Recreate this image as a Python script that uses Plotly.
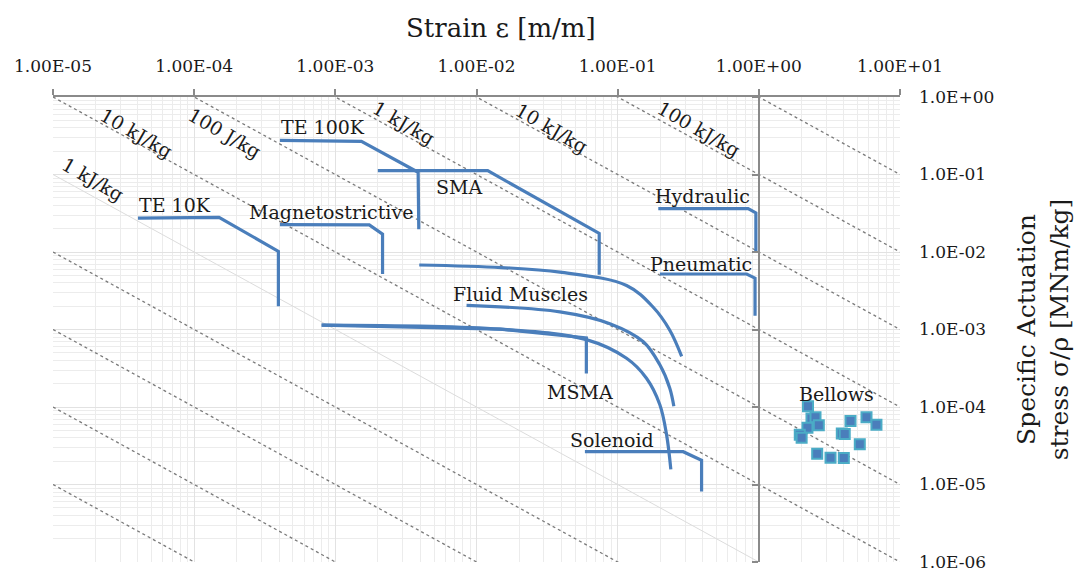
import plotly.graph_objects as go

# ---------------- data (strain [m/m], specific stress [MNm/kg]) ----------------
te10k_x = [4.0e-5, 1.5e-4, 3.95e-4, 3.95e-4]
te10k_y = [2.73e-2, 2.8e-2, 1.02e-2, 2.0e-3]

te100k_x = [4.05e-4, 1.53e-3, 3.86e-3, 3.9e-3]
te100k_y = [0.275, 0.267, 0.107, 0.0197]

sma_x = [2.0e-3, 1.2e-2, 7.4e-2, 7.4e-2]
sma_y = [0.112, 0.112, 0.0174, 0.0051]

magneto_x = [4.05e-4, 1.74e-3, 2.16e-3, 2.16e-3]
magneto_y = [2.26e-2, 2.24e-2, 1.7e-2, 5.2e-3]

hydraulic_x = [0.194, 0.84, 0.953, 0.953]
hydraulic_y = [3.63e-2, 3.63e-2, 3.2e-2, 9.9e-3]

pneumatic_x = [0.199, 0.82, 0.94, 0.94]
pneumatic_y = [5.2e-3, 5.2e-3, 4.6e-3, 1.5e-3]

solenoid_x = [5.86e-2, 0.291, 0.393, 0.393]
solenoid_y = [2.65e-5, 2.65e-5, 2.05e-5, 8.1e-6]

msma_x = [8.0e-4, 1.47e-2, 6.0e-2, 6.0e-2]
msma_y = [1.14e-3, 1.01e-3, 7.8e-4, 2.7e-4]

curve_upper_x = [3.93e-3, 1.5e-2, 3.9e-2, 0.1156, 0.178, 0.234, 0.284]
curve_upper_y = [6.8e-3, 6.3e-3, 5.5e-3, 3.7e-3, 1.95e-3, 9.8e-4, 4.5e-4]

fluid_muscle_x = [8.5e-3, 3.9e-2, 8.8e-2, 0.152, 0.199, 0.234, 0.25]
fluid_muscle_y = [2.05e-3, 1.69e-3, 1.19e-3, 6.95e-4, 3.5e-4, 1.75e-4, 1.02e-4]

curve_lower_x = [8.0e-4, 1.47e-2, 6.0e-2, 0.1156, 0.160, 0.199, 0.222, 0.238]
curve_lower_y = [1.14e-3, 1.01e-3, 7.4e-4, 4.25e-4, 2.35e-4, 1.07e-4, 4.4e-5, 1.57e-5]

bellows_x = [2.23, 2.36, 2.52, 2.66, 2.21, 1.95, 2.01, 2.59, 3.22, 4.0, 3.87, 4.06, 4.46, 5.19, 5.79, 6.81]
bellows_y = [1.02e-4, 7.1e-5, 7.4e-5, 5.8e-5, 5.4e-5, 4.4e-5, 4.0e-5, 2.5e-5, 2.22e-5, 2.2e-5,
             4.55e-5, 4.5e-5, 6.6e-5, 3.3e-5, 7.4e-5, 5.9e-5]

# iso specific-work lines (sigma/rho * eps = const)
iso_dotted = [1e-10, 1e-9, 1e-8, 1e-7, 1e-5, 1e-4, 1e-3, 1e-2, 1e-1, 1e0]
iso_solid = [1e-6]

x_ticks = [1e-5, 1e-4, 1e-3, 1e-2, 1e-1, 1e0, 1e1]
x_ticktext = ["1.00E-05", "1.00E-04", "1.00E-03", "1.00E-02", "1.00E-01", "1.00E+00", "1.00E+01"]
y_ticks = [1e0, 1e-1, 1e-2, 1e-3, 1e-4, 1e-5, 1e-6]
y_ticktext = ["1.0E+00", "1.0E-01", "1.0E-02", "1.0E-03", "1.0E-04", "1.0E-05", "1.0E-06"]

iso_labels = ["1 kJ/kg", "10 kJ/kg", "100 J/kg", "1 kJ/kg", "10 kJ/kg", "100 kJ/kg"]
series_labels = ["TE 10K", "TE 100K", "SMA", "Magnetostrictive", "Hydraulic", "Pneumatic",
                 "Fluid Muscles", "MSMA", "Solenoid", "Bellows"]

# ---------------- styling ----------------
FONT = "DejaVu Serif"
BLUE = "#4a7ebb"
AXIS_GRAY = "#8a8a8a"
TXT = "#1a1a1a"

fig = go.Figure()

x_lo, x_hi = 1e-5, 1e1
for w in iso_dotted:
    fig.add_trace(go.Scatter(x=[x_lo, x_hi], y=[w / x_lo, w / x_hi], mode="lines",
                             line=dict(color="#7a7a7a", width=1.3, dash="dot"),
                             hoverinfo="skip", showlegend=False))
for w in iso_solid:
    fig.add_trace(go.Scatter(x=[x_lo, x_hi], y=[w / x_lo, w / x_hi], mode="lines",
                             line=dict(color="#dcdcdc", width=1),
                             hoverinfo="skip", showlegend=False))

line_series = [
    (te10k_x, te10k_y, "linear"),
    (te100k_x, te100k_y, "linear"),
    (sma_x, sma_y, "linear"),
    (magneto_x, magneto_y, "linear"),
    (hydraulic_x, hydraulic_y, "linear"),
    (pneumatic_x, pneumatic_y, "linear"),
    (solenoid_x, solenoid_y, "linear"),
    (msma_x, msma_y, "linear"),
    (curve_upper_x, curve_upper_y, "spline"),
    (fluid_muscle_x, fluid_muscle_y, "spline"),
    (curve_lower_x, curve_lower_y, "spline"),
]
for xs, ys, shp in line_series:
    fig.add_trace(go.Scatter(x=xs, y=ys, mode="lines",
                             line=dict(color=BLUE, width=3.2, shape=shp, smoothing=1.0),
                             showlegend=False))

fig.add_trace(go.Scatter(x=bellows_x, y=bellows_y, mode="markers",
                         marker=dict(symbol="square", size=10, color="#4a7ebb",
                                     line=dict(color="#4bacc6", width=2)),
                         showlegend=False))

# dummy trace for the axis drawn through x = 1
fig.add_trace(go.Scatter(x=[], y=[], yaxis="y2", showlegend=False))

# ---------------- annotations ----------------
iso_label_pos = [(-4.722, -1.064), (-4.407, -0.458), (-3.782, -0.458),
                 (-2.514, -0.337), (-1.468, -0.401), (-0.425, -0.414)]
for txt, (lx, ly) in zip(iso_labels, iso_label_pos):
    fig.add_annotation(x=lx, y=ly, xref="x", yref="y", text=txt, showarrow=False,
                       textangle=30, font=dict(family=FONT, size=19, color=TXT))

series_label_pos = [(-4.136, -1.397), (-3.088, -0.388), (-2.125, -1.158), (-3.033, -1.483),
                    (-0.402, -1.278), (-0.409, -2.150), (-1.690, -2.542), (-1.266, -3.804),
                    (-1.039, -4.432), (0.550, -3.829)]
for txt, (lx, ly) in zip(series_labels, series_label_pos):
    fig.add_annotation(x=lx, y=ly, xref="x", yref="y", text=txt, showarrow=False,
                       font=dict(family=FONT, size=19, color=TXT))

# x-axis title (sits right of centre in the original)
fig.add_annotation(x=0.529, y=1.148, xref="paper", yref="paper", text="Strain ε [m/m]",
                   showarrow=False, xanchor="center", yanchor="middle",
                   font=dict(family=FONT, size=26, color=TXT))

minor_x = [m * 10.0 ** e for e in range(-5, 1) for m in range(2, 10)]
minor_y = [m * 10.0 ** e for e in range(-6, 0) for m in range(2, 10)]

fig.update_layout(
    width=1075, height=572,
    margin=dict(l=53, r=175, t=97, b=10),
    paper_bgcolor="white", plot_bgcolor="white",
    font=dict(family=FONT, size=18, color=TXT),
    xaxis=dict(type="log", range=[-5, 1], side="top",
               tickmode="array", tickvals=x_ticks, ticktext=x_ticktext,
               showline=True, linecolor=AXIS_GRAY, linewidth=2,
               ticks="outside", ticklen=6, tickwidth=2, tickcolor=AXIS_GRAY,
               ticklabelstandoff=10, tickfont=dict(family=FONT, size=17, color=TXT),
               ticklabeloverflow="allow",
               showgrid=True, gridcolor="#e2e2e2", gridwidth=1, zeroline=False,
               minor=dict(tickmode="array", tickvals=minor_x, showgrid=True,
                          gridcolor="#ececec", gridwidth=1, ticks=""),
               automargin=False),
    yaxis=dict(type="log", range=[-6, 0], side="right",
               tickmode="array", tickvals=y_ticks, ticktext=y_ticktext,
               showline=False, ticks="", ticklabelstandoff=18,
               ticklabeloverflow="allow",
               tickfont=dict(family=FONT, size=17, color=TXT),
               showgrid=True, gridcolor="#e2e2e2", gridwidth=1, zeroline=False,
               minor=dict(tickmode="array", tickvals=minor_y, showgrid=True,
                          gridcolor="#ececec", gridwidth=1, ticks=""),
               title=dict(text="Specific Actuation<br>stress σ/ρ [MNm/kg]",
                          font=dict(family=FONT, size=25, color=TXT), standoff=24),
               automargin=False),
    yaxis2=dict(type="log", range=[-6, 0], overlaying="y", anchor="free", position=5 / 6,
                side="left", showline=True, linecolor=AXIS_GRAY, linewidth=2,
                ticks="outside", ticklen=6, tickwidth=2, tickcolor=AXIS_GRAY,
                tickmode="array", tickvals=y_ticks, showticklabels=False,
                showgrid=False, zeroline=False),
)

fig.write_html("out.html", config={"displayModeBar": False},
               post_script="document.body.style.margin='0px';")
